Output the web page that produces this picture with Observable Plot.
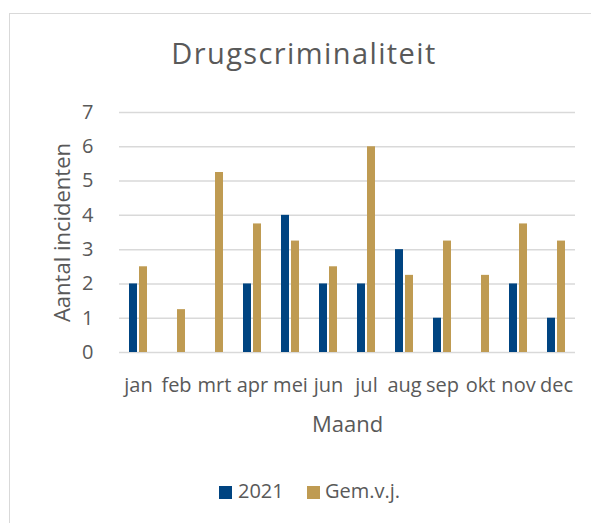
<!DOCTYPE html>
<html>
<head>
<meta charset="utf-8">
<script src="https://cdn.jsdelivr.net/npm/d3@7"></script>
<script src="https://cdn.jsdelivr.net/npm/@observablehq/plot@0.6"></script>
<style>
  html, body { margin: 0; padding: 0; background: #fff; }
  #wrap { position: relative; width: 591px; height: 523px; overflow: hidden; font-family: "Open Sans", sans-serif; color: #595959; }
  #frame { position: absolute; left: 9px; top: 13px; width: 700px; height: 600px; border: 1.5px solid #d9d9d9; box-sizing: border-box; }
  #title { position: absolute; left: 0; top: 38px; width: 608px; text-align: center; font-size: 29px; line-height: 29px; letter-spacing: 1.4px; }
  #chart { position: absolute; left: 0; top: 0; }
  .leg { position: absolute; font-size: 20px; line-height: 20px; top: 481px; }
  .sw { position: absolute; width: 13px; height: 13px; top: 486px; }
</style>
</head>
<body>
<div id="wrap">
  <div id="frame"></div>
  <div id="title">Drugscriminaliteit</div>
  <div id="chart"></div>
  <div id="legend"></div>
</div>
<script>
const months = ["jan","feb","mrt","apr","mei","jun","jul","aug","sep","okt","nov","dec"];
const series = ["2021","Gem.v.j."];
const values2021 = [2,0,0,2,4,2,2,3,1,0,2,1];
const valuesGem = [2.5,1.25,5.25,3.75,3.25,2.5,6,2.25,3.25,2.25,3.75,3.25];
const yTicks = [0,1,2,3,4,5,6,7];
const colors = ["#004481","#BF9B52"];

const data = months.flatMap((m, i) => [
  {month: m, series: series[0], value: values2021[i]},
  {month: m, series: series[1], value: valuesGem[i]}
]);

const chart = Plot.plot({
  width: 591,
  height: 400,
  marginTop: 112,
  marginBottom: 48,
  marginLeft: 118,
  marginRight: 15,
  style: {fontFamily: "Open Sans, sans-serif", fontSize: "20px", color: "#595959", background: "transparent", overflow: "visible"},
  fx: {domain: months, padding: 0},
  x: {domain: series, paddingInner: 0.16, paddingOuter: 0.9, axis: null},
  y: {domain: [0, 7]},
  color: {domain: series, range: colors},
  marks: [
    Plot.gridY(yTicks, {stroke: "#d9d9d9", strokeOpacity: 1, strokeWidth: 1.5}),
    Plot.barY(data, {fx: "month", x: "series", y: "value", fill: "series"}),
    Plot.axisY(yTicks, {tickSize: 0, tickPadding: 26, label: null, fontSize: 20}),
    Plot.axisY([], {label: "Aantal incidenten", labelAnchor: "center", labelOffset: 65, labelArrow: "none", fontSize: 22}),
    Plot.axisFx({anchor: "bottom", tickSize: 0, tickPadding: 25, label: null, fontSize: 20}),
    Plot.axisFx([], {anchor: "bottom", label: "Maand", labelAnchor: "center", labelOffset: 79, labelArrow: "none", fontSize: 22})
  ]
});
document.getElementById("chart").appendChild(chart);

const legend = document.getElementById("legend");
const legPos = [{sw: 219, tx: 238}, {sw: 307, tx: 325}];
series.forEach((s, i) => {
  const sw = document.createElement("div");
  sw.className = "sw";
  sw.style.left = legPos[i].sw + "px";
  sw.style.background = colors[i];
  legend.appendChild(sw);
  const tx = document.createElement("div");
  tx.className = "leg";
  tx.style.left = legPos[i].tx + "px";
  tx.textContent = s;
  legend.appendChild(tx);
});
</script>
</body>
</html>
